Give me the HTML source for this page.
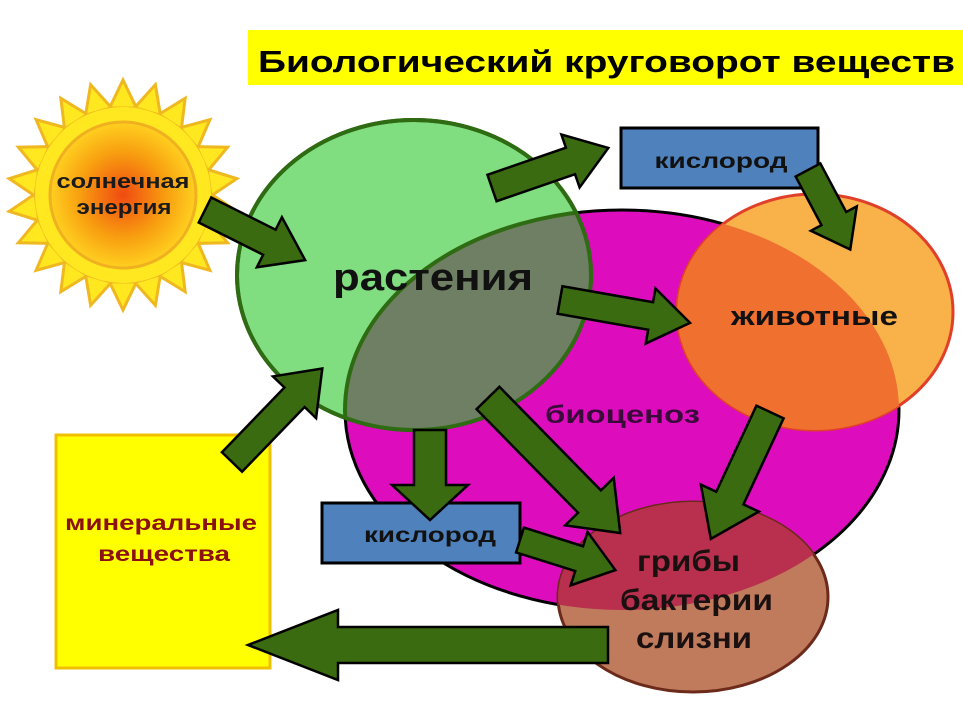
<!DOCTYPE html>
<html><head><meta charset="utf-8"><style>html,body{margin:0;padding:0;background:#fff}svg{display:block}text{font-family:"Liberation Sans","DejaVu Sans",sans-serif;font-weight:bold}</style></head>
<body>
<svg width="963" height="723" viewBox="0 0 963 723" xmlns="http://www.w3.org/2000/svg">
<defs>
<radialGradient id="sg" cx="50%" cy="50%" r="50%"><stop offset="0" stop-color="#f04a10"/><stop offset="0.6" stop-color="#f8a010"/><stop offset="1" stop-color="#ffd020"/></radialGradient>
<clipPath id="cm"><ellipse cx="622" cy="410" rx="277" ry="200"/></clipPath>
<clipPath id="cg"><ellipse cx="414" cy="275" rx="177" ry="155"/></clipPath>
<polygon id="spk" points="109.5,108 123,80 136.5,108" fill="#ffe820" stroke="#f0b820" stroke-width="3" stroke-linejoin="miter"/>
</defs>
<rect x="248" y="30" width="715" height="55" fill="#ffff00"/>
<text x="258" y="72" font-size="31" fill="#000" textLength="697" lengthAdjust="spacingAndGlyphs">Биологический круговорот веществ</text>

<!-- sun -->
<g>
<use href="#spk" transform="rotate(0 123 195)"/>
<use href="#spk" transform="rotate(16.36 123 195)"/>
<use href="#spk" transform="rotate(32.73 123 195)"/>
<use href="#spk" transform="rotate(49.09 123 195)"/>
<use href="#spk" transform="rotate(65.45 123 195)"/>
<use href="#spk" transform="rotate(81.82 123 195)"/>
<use href="#spk" transform="rotate(98.18 123 195)"/>
<use href="#spk" transform="rotate(114.55 123 195)"/>
<use href="#spk" transform="rotate(130.91 123 195)"/>
<use href="#spk" transform="rotate(147.27 123 195)"/>
<use href="#spk" transform="rotate(163.64 123 195)"/>
<use href="#spk" transform="rotate(180 123 195)"/>
<use href="#spk" transform="rotate(196.36 123 195)"/>
<use href="#spk" transform="rotate(212.73 123 195)"/>
<use href="#spk" transform="rotate(229.09 123 195)"/>
<use href="#spk" transform="rotate(245.45 123 195)"/>
<use href="#spk" transform="rotate(261.82 123 195)"/>
<use href="#spk" transform="rotate(278.18 123 195)"/>
<use href="#spk" transform="rotate(294.55 123 195)"/>
<use href="#spk" transform="rotate(310.91 123 195)"/>
<use href="#spk" transform="rotate(327.27 123 195)"/>
<use href="#spk" transform="rotate(343.64 123 195)"/>
</g>
<circle cx="123" cy="195" r="88" fill="#ffe820"/>
<circle cx="123" cy="195" r="73" fill="url(#sg)" stroke="#f0b020" stroke-width="3"/>
<text x="123" y="188" font-size="20" text-anchor="middle" fill="#1a1a1a" textLength="133" lengthAdjust="spacingAndGlyphs">солнечная</text>
<text x="124" y="214" font-size="20" text-anchor="middle" fill="#1a1a1a" textLength="95" lengthAdjust="spacingAndGlyphs">энергия</text>

<!-- ellipses -->
<ellipse cx="622" cy="410" rx="277" ry="200" fill="#dd0cbc" stroke="#000" stroke-width="3"/>
<ellipse cx="693" cy="597" rx="135" ry="95" fill="#c07a5c" stroke="#6b2a1a" stroke-width="3"/>
<ellipse cx="693" cy="597" rx="135" ry="95" fill="#b8304e" clip-path="url(#cm)"/>
<ellipse cx="815" cy="312" rx="138" ry="118" fill="#f9b14a" stroke="#e0402a" stroke-width="3"/>
<ellipse cx="815" cy="312" rx="138" ry="118" fill="#f07030" clip-path="url(#cm)"/>
<ellipse cx="414" cy="275" rx="177" ry="155" fill="#80dd80" stroke="#2e6b12" stroke-width="4"/>
<ellipse cx="414" cy="275" rx="177" ry="155" fill="#6f7f63" clip-path="url(#cm)"/>
<ellipse cx="622" cy="410" rx="277" ry="200" fill="none" stroke="#2e6b12" stroke-width="4" clip-path="url(#cg)"/>
<ellipse cx="414" cy="275" rx="177" ry="155" fill="none" stroke="#2e6b12" stroke-width="4"/>

<!-- boxes -->
<rect x="56" y="435" width="214" height="233" fill="#ffff00" stroke="#f0c000" stroke-width="3"/>
<text x="161" y="530" font-size="21" text-anchor="middle" fill="#8b1010" textLength="192" lengthAdjust="spacingAndGlyphs">минеральные</text>
<text x="164" y="561" font-size="21" text-anchor="middle" fill="#8b1010" textLength="132" lengthAdjust="spacingAndGlyphs">вещества</text>
<rect x="621" y="128" width="197" height="60" fill="#4f81bd" stroke="#000" stroke-width="3"/>
<text x="721" y="168" font-size="21" text-anchor="middle" fill="#111" textLength="133" lengthAdjust="spacingAndGlyphs">кислород</text>
<rect x="322" y="503" width="198" height="60" fill="#4f81bd" stroke="#000" stroke-width="3"/>
<text x="430" y="542" font-size="21" text-anchor="middle" fill="#111" textLength="132" lengthAdjust="spacingAndGlyphs">кислород</text>

<!-- arrows -->
<g fill="#3a6b10" stroke="#000" stroke-width="2.5" stroke-linejoin="miter">
<g transform="translate(205,210) rotate(26.6)"><polygon points="0,-14 72,-14 72,-28 112,0 72,28 72,14 0,14"/></g>
<g transform="translate(232,462) rotate(-46)"><polygon points="0,-14 90,-14 90,-30 130,0 90,30 90,14 0,14"/></g>
<g transform="translate(492,188) rotate(-19)"><polygon points="0,-14 83,-14 83,-28 123,0 83,28 83,14 0,14"/></g>
<g transform="translate(808,170) rotate(62)"><polygon points="0,-14 55,-14 55,-26 90,0 55,26 55,14 0,14"/></g>
<g transform="translate(560,300) rotate(10)"><polygon points="0,-14 92,-14 92,-28 132,0 92,28 92,14 0,14"/></g>
<g transform="translate(430,430) rotate(90)"><polygon points="0,-16 55,-16 55,-38 90,0 55,38 55,16 0,16"/></g>
<g transform="translate(488,398) rotate(45.6)"><polygon points="0,-16 145,-16 145,-34 189,0 145,34 145,16 0,16"/></g>
<g transform="translate(770,412) rotate(115)"><polygon points="0,-15 95,-15 95,-32 140,0 95,32 95,15 0,15"/></g>
<g transform="translate(520,540) rotate(17.5)"><polygon points="0,-13 62,-13 62,-28 100,0 62,28 62,13 0,13"/></g>
<g transform="translate(608,645) rotate(180)"><polygon points="0,-18 270,-18 270,-35 360,0 270,35 270,18 0,18"/></g>
</g>

<text x="333" y="290" font-size="38" fill="#111" textLength="200" lengthAdjust="spacingAndGlyphs">растения</text>
<text x="731" y="325" font-size="27" fill="#111" textLength="167" lengthAdjust="spacingAndGlyphs">животные</text>
<text x="545" y="423" font-size="25" fill="#3a0a3a" textLength="155" lengthAdjust="spacingAndGlyphs">биоценоз</text>
<text x="637" y="571" font-size="30" fill="#1a1010" textLength="103" lengthAdjust="spacingAndGlyphs">грибы</text>
<text x="620" y="610" font-size="30" fill="#1a1010" textLength="153" lengthAdjust="spacingAndGlyphs">бактерии</text>
<text x="636" y="648" font-size="30" fill="#1a1010" textLength="116" lengthAdjust="spacingAndGlyphs">слизни</text>
</svg>
</body></html>
